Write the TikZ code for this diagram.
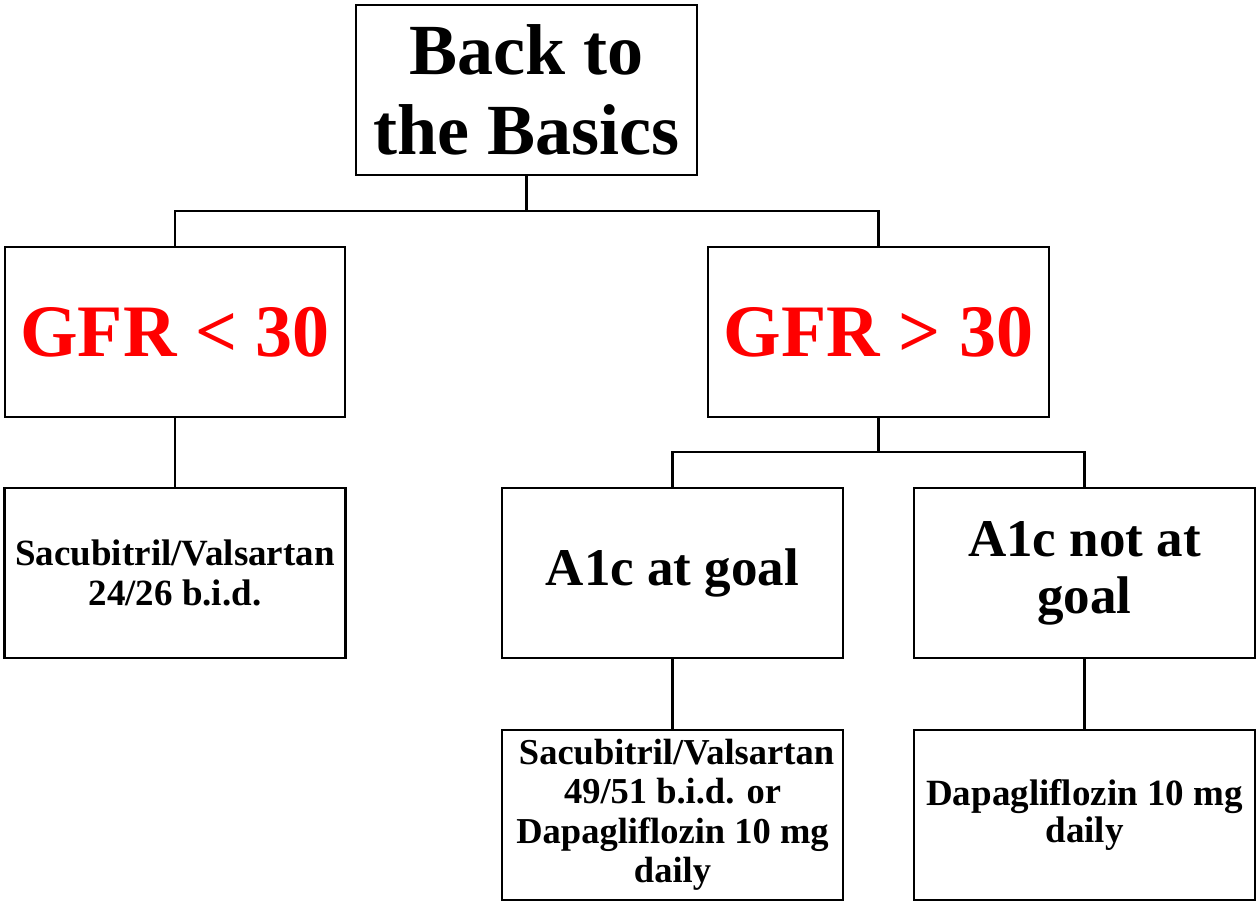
\documentclass[tikz,border=0pt]{standalone}
\usepackage{fontspec}
\setmainfont{Liberation Serif}
\begin{document}
\begin{tikzpicture}[x=1pt,y=1pt,
  box/.style={draw=black, line width=2.5pt, minimum width=341pt, minimum height=170pt, inner sep=0pt, align=center, font=\bfseries},
  conn/.style={draw=black, line width=2.5pt},
  big/.style={font=\bfseries\fontsize{72}{80}\selectfont},
  gfr/.style={font=\bfseries\fontsize{74}{84}\selectfont, text=red},
  mid/.style={font=\bfseries\fontsize{53}{57}\selectfont},
  small/.style={font=\bfseries\fontsize{37}{40}\selectfont},
  smallb/.style={font=\bfseries\fontsize{36.5}{39.5}\selectfont},
  smallc/.style={font=\bfseries\fontsize{37}{37}\selectfont}
]
\useasboundingbox (0,0) rectangle (1257,903);
\node[box, big] (top) at (526.5,813) {Back to\\the Basics};
\node[box, gfr, minimum width=340pt] (gfr1) at (175,571) {GFR < 30};
\node[box, gfr] (gfr2) at (878.5,571) {GFR > 30};
\node[box, small] (sac) at (175,330) {Sacubitril/Valsartan\\24/26 b.i.d.};
\node[box, mid] (a1) at (672.5,330) {A1c at goal};
\node[box, mid] (a2) at (1084.5,330) {A1c not at\\goal};
\node[box, smallb] (b1) at (672.5,88) {\hspace{8pt}Sacubitril/Valsartan\\49/51 b.i.d. or\\Dapagliflozin 10 mg\\daily};
\node[box, smallc] (b2) at (1084.5,88) {Dapagliflozin 10 mg\\daily};
\coordinate (j1) at (526.5,692);
\coordinate (j2) at (878.5,451);
\draw[conn] (top.south) -- (j1);
\draw[conn] (gfr1.north) |- (j1) -| (gfr2.north);
\draw[conn] (gfr1.south) -- (sac.north);
\draw[conn] (gfr2.south) -- (j2);
\draw[conn] (a1.north) |- (j2) -| (a2.north);
\draw[conn] (a1.south) -- (b1.north);
\draw[conn] (a2.south) -- (b2.north);
\end{tikzpicture}
\end{document}
